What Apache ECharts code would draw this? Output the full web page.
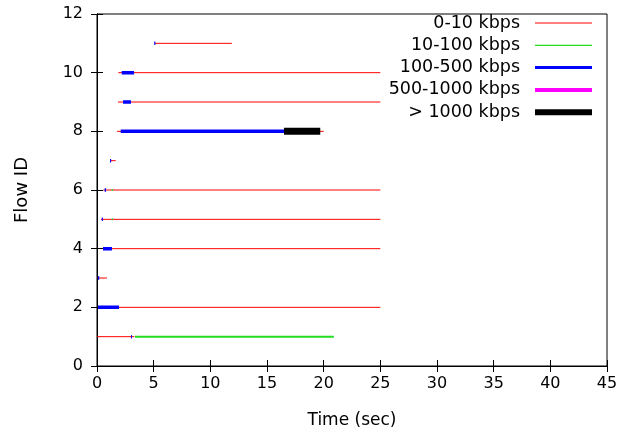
<!DOCTYPE html>
<html><head><meta charset="utf-8">
<script src="https://cdn.jsdelivr.net/npm/echarts@6/dist/echarts.min.js"></script>
<style>html,body{margin:0;padding:0;background:#fff}#c{width:635px;height:434px}</style>
</head><body><div id="c"></div>
<script>
// Segments: [flowId, startTime, endTime]
const classNames = ['0-10 kbps', '10-100 kbps', '100-500 kbps', '500-1000 kbps', '> 1000 kbps'];
const seg0_10 = [
  [11, 5.1, 11.9], [10, 1.88, 25], [9, 1.85, 25], [8, 1.77, 20.0], [7, 1.15, 1.65],
  [6, 0.56, 25], [5, 0.35, 25], [4, 0.5, 25], [3, 0.05, 0.88], [2, 0.1, 25], [1, 0, 3.3]
];
const seg10_100 = [ [6, 1.3, 1.4], [5, 1.3, 1.4], [1, 3.35, 20.9] ];
const seg100_500 = [
  [11, 5.05, 5.15], [10, 2.18, 3.27], [9, 2.3, 3.0], [8, 2.09, 16.5], [7, 1.15, 1.25],
  [6, 0.68, 0.8], [5, 0.42, 0.52], [4, 0.53, 1.32], [3, 0.08, 0.2], [2, 0.09, 1.94], [1, 3.0, 3.08]
];
const seg500_1000 = [];
const seg1000 = [ [8, 16.5, 19.7] ];
const xTicks = { min: 0, max: 45, interval: 5 };
const yTicks = { min: 0, max: 12, interval: 2 };

const segSets = [seg0_10, seg10_100, seg100_500, seg500_1000, seg1000];
const colors = ['#ff0000', '#22dd22', '#0000ff', '#ff00ff', '#000000'];
const widths = [1, 2, 3.5, 4, 7];
const legendWidths = [1, 1.3, 3, 4, 6];

function toLine(segs) {
  const d = [];
  segs.forEach(s => { d.push([s[1], s[0]]); d.push([s[2], s[0]]); d.push([s[2], '-']); });
  return d;
}
const font = '"DejaVu Sans", sans-serif';
const series = segSets.map((segs, i) => ({
  name: classNames[i], type: 'line', data: toLine(segs), symbol: 'none',
  connectNulls: false, color: colors[i],
  lineStyle: { color: colors[i], width: widths[i], cap: 'butt' }, z: 2 + i
}));

const chart = echarts.init(document.getElementById('c'), null, { renderer: 'canvas' });
const tickStyle = { show: true, inside: true, length: 6, lineStyle: { color: '#000', width: 1 } };
chart.setOption({
  animation: false,
  grid: { left: 97, right: 28, top: 14, bottom: 67, show: true, borderColor: '#000', borderWidth: 1 },
  legend: {
    orient: 'vertical', right: 40, top: 14, align: 'right', padding: 0,
    itemWidth: 57, itemHeight: 18, itemGap: 4.3,
    itemStyle: { opacity: 0 },
    data: classNames.map((n, i) => ({ name: n, lineStyle: { width: legendWidths[i], color: colors[i], cap: 'butt' } })),
    textStyle: { fontFamily: font, fontSize: 17.5, lineHeight: 18, color: '#000', padding: [0, 10, 0, 0] }
  },
  xAxis: [
    { type: 'value', min: xTicks.min, max: xTicks.max, interval: xTicks.interval,
      name: 'Time (sec)', nameLocation: 'middle', nameGap: 46,
      nameTextStyle: { fontFamily: font, fontSize: 17, color: '#000' },
      axisLine: { show: true, lineStyle: { color: '#000' } }, axisTick: tickStyle,
      axisLabel: { fontFamily: font, fontSize: 16, color: '#000', margin: 10 },
      splitLine: { show: false } },
    { type: 'value', position: 'top', min: xTicks.min, max: xTicks.max, interval: xTicks.interval,
      axisLine: { show: true, lineStyle: { color: '#000' } }, axisTick: tickStyle,
      axisLabel: { show: false }, splitLine: { show: false } }
  ],
  yAxis: [
    { type: 'value', min: yTicks.min, max: yTicks.max, interval: yTicks.interval,
      name: 'Flow ID', nameLocation: 'middle', nameGap: 66, nameRotate: 90,
      nameTextStyle: { fontFamily: font, fontSize: 18, color: '#000' },
      axisLine: { show: true, lineStyle: { color: '#000' } }, axisTick: tickStyle,
      axisLabel: { fontFamily: font, fontSize: 16, color: '#000', margin: 14 },
      splitLine: { show: false } },
    { type: 'value', position: 'right', min: yTicks.min, max: yTicks.max, interval: yTicks.interval,
      axisLine: { show: true, lineStyle: { color: '#000' } }, axisTick: tickStyle,
      axisLabel: { show: false }, splitLine: { show: false } }
  ],
  series: series
});
</script></body></html>
